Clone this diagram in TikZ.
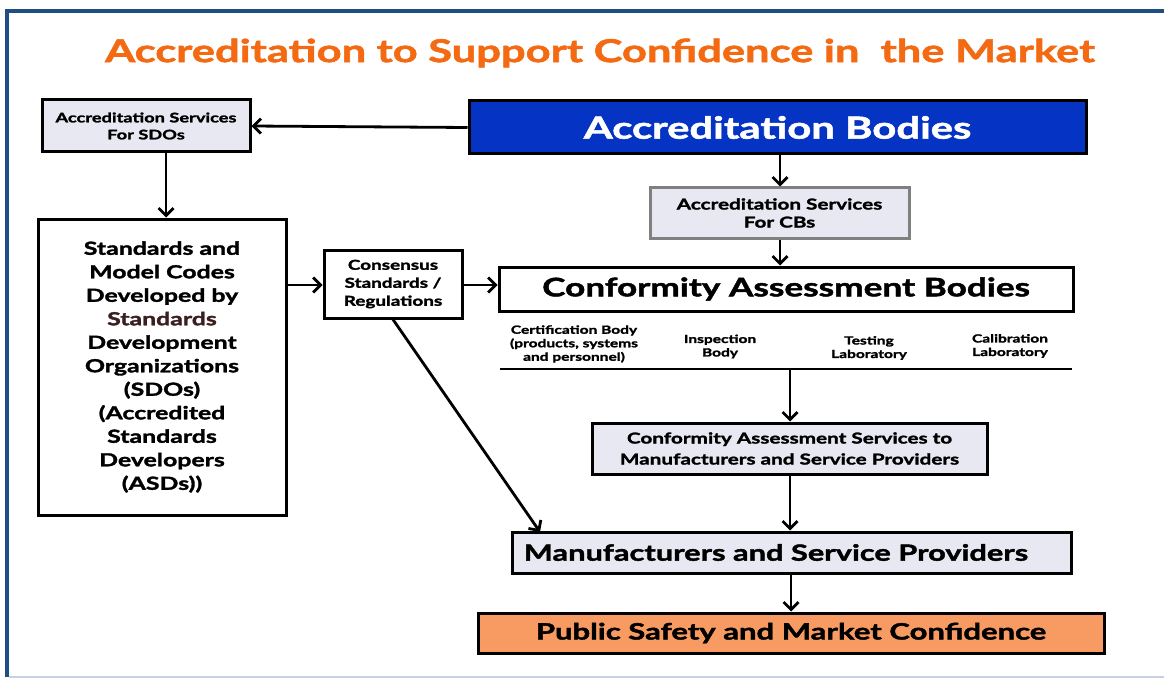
\documentclass[tikz,border=0pt]{standalone}
\usepackage{fontspec}
\setmainfont{Lato}[FakeStretch=1.38, BoldFeatures={FakeBold=1.8}]
\usetikzlibrary{arrows.meta}
\definecolor{frameblue}{HTML}{1F4E82}
\definecolor{titleorange}{HTML}{F46A12}
\definecolor{abblue}{HTML}{0533C4}
\definecolor{lav}{HTML}{E8E8F3}
\definecolor{puborange}{HTML}{F79B62}
\definecolor{lightline}{HTML}{C8D0E4}
\definecolor{darkred}{HTML}{3B1F1F}
\tikzset{
  box/.style={draw=black, line width=3pt, inner sep=2pt, align=center, font=\bfseries},
  arr/.style={line width=2.8pt, -{Straight Barb[length=7.5pt,width=15pt,line width=2.8pt]}},
  sub/.style={font=\bfseries\fontsize{11.25}{13.5}\selectfont, align=center, inner sep=0pt}
}
\begin{document}
\begin{tikzpicture}[x=1pt,y=-1pt]
\useasboundingbox (0,0) rectangle (1164,679);
\fill[white] (0,0) rectangle (1164,679);
% frame
\draw[frameblue, line width=4pt] (7,677) -- (7,11) -- (1164,11);
\draw[lightline, line width=2pt] (9,677) -- (1164,677);
% title
\node[font=\bfseries\fontsize{31.5}{36}\selectfont, text=titleorange] (title) at (600,53) {Accreditation to Support Confidence in\ \ the Market};
% boxes
\node[box, fill=lav, minimum width=208pt, minimum height=52pt, font=\bfseries\fontsize{13.2}{17}\selectfont] (sdo) at (146,126) {Accreditation Services\\For SDOs};
\node[box, fill=abblue, text=white, minimum width=617pt, minimum height=53pt, font=\bfseries\fontsize{30.3}{34}\selectfont] (ab) at (777.5,127.5) {Accreditation Bodies};
\node[box, draw=black!50, fill=lav, minimum width=259pt, minimum height=50pt, font=\bfseries\fontsize{15}{18}\selectfont] (cbs) at (779.5,213) {Accreditation Services\\For CBs};
\node[box, fill=white, minimum width=248pt, minimum height=296pt, font=\bfseries\fontsize{18}{23.5}\selectfont] (std) at (162,367) {Standards and\\Model Codes\\Developed by\\\textcolor{darkred}{Standards}\\Development\\Organizations\\(SDOs)\\(Accredited\\Standards\\Developers\\(ASDs))};
\node[box, fill=white, minimum width=138pt, minimum height=68pt, font=\bfseries\fontsize{13.7}{18}\selectfont] (cons) at (393,284) {Consensus\\Standards /\\Regulations};
\node[box, fill=white, minimum width=574pt, minimum height=44pt, font=\bfseries\fontsize{25.5}{30}\selectfont] (cab) at (786,289) {Conformity Assessment Bodies};
\node[box, fill=lav, minimum width=395pt, minimum height=51pt, font=\bfseries\fontsize{15}{21}\selectfont] (cas) at (789.5,448.5) {Conformity Assessment Services to\\Manufacturers and Service Providers};
\node[box, fill=lav, minimum width=559pt, minimum height=41pt, font=\bfseries\fontsize{22.3}{26}\selectfont] (mfr) at (791.5,552.5) {\hspace*{-31pt}Manufacturers and Service Providers};
\node[box, fill=puborange, minimum width=626pt, minimum height=40pt, font=\bfseries\fontsize{22.5}{26}\selectfont] (pub) at (791,633) {Public Safety and Market Confidence};
% sub labels
\node[sub] (cert) at (574,344) {Certification Body\\(products, systems\\and personnel)};
\node[sub] (insp) at (720,346.5) {Inspection\\Body};
\node[sub] (test) at (869,348) {Testing\\Laboratory};
\node[sub] (cal) at (1010,346) {Calibration\\Laboratory};
\coordinate (lineL) at (500,369);
\coordinate (lineR) at (1072,369);
\coordinate (lineM) at (790,369);
\draw[line width=2.8pt] (lineL) -- (lineR);
% connectors
\draw[arr] (ab.west) -- (sdo.east);
\draw[arr] (sdo.south -| 166,0) -- (std.north -| 166,0);
\draw[arr] (ab.south -| 780,0) -- (cbs.north -| 780,0);
\draw[arr] (cbs.south -| 780,0) -- (cab.north -| 780,0);
\draw[arr] (std.east |- 0,285) -- (cons.west |- 0,285);
\draw[arr] (cons.east |- 0,285) -- (cab.west |- 0,285);
\coordinate (mfrin) at (540,532);
\draw[arr] (cons.south) -- (mfrin);
\draw[arr] (lineM) -- (cas.north -| lineM);
\draw[arr] (cas.south -| lineM) -- (mfr.north -| lineM);
\draw[arr] (mfr.south -| 791,0) -- (pub.north -| 791,0);
\end{tikzpicture}
\end{document}
